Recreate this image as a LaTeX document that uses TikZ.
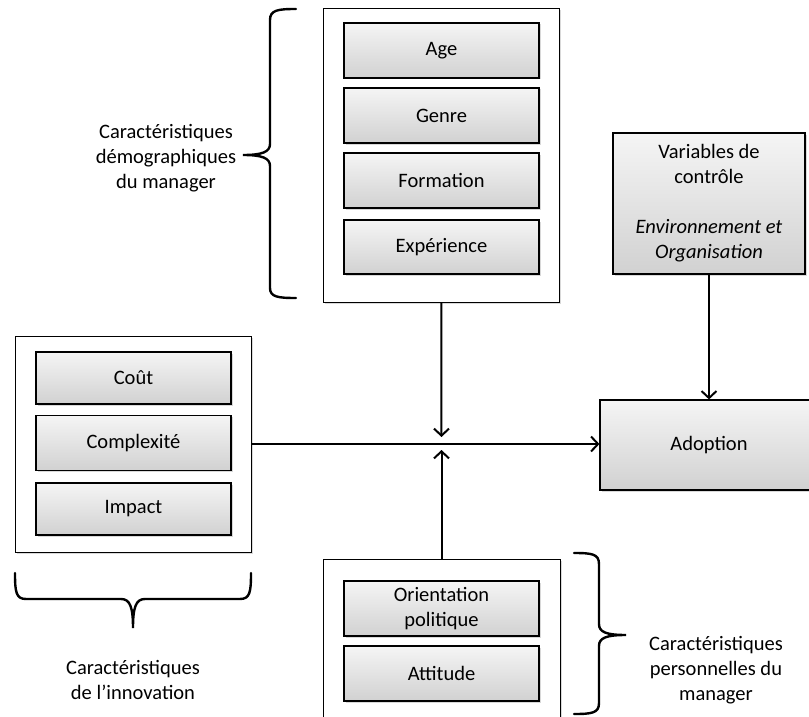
\documentclass[tikz,border=0pt]{standalone}
\usepackage{fontspec}
\setmainfont{Carlito}
\usetikzlibrary{arrows.meta,shadows}

\begin{document}
\begin{tikzpicture}[x=1pt, y=-1pt,
    every node/.style={font=\fontsize{20.5}{25}\selectfont},
    group/.style={draw, line width=1pt, fill=white, drop shadow={shadow xshift=1.5pt, shadow yshift=-1.5pt, opacity=0.3}},
    item/.style={draw, line width=1.2pt, top color=gray!8, bottom color=gray!36, minimum width=195pt, inner sep=2pt,
        drop shadow={shadow xshift=1.5pt, shadow yshift=-1.5pt, opacity=0.3}},
    link/.style={-{Straight Barb[length=7pt, width=15pt, line width=2pt]}, line width=2pt},
    brace/.style={line width=2.4pt, line cap=round}]
    % Fix the page to the size of the original figure
    \useasboundingbox (0,0) rectangle (809,717);

    % Demographic characteristics (top)
    \node[group, minimum width=236pt, minimum height=293pt] (demo) at (441,155.5) {};
    \node[item, minimum height=55pt] (age) at (441.5,50.5) {Age};
    \node[item, minimum height=55pt] (genre) at (441.5,115.5) {Genre};
    \node[item, minimum height=55pt] (formation) at (441.5,180.5) {Formation};
    \node[item, minimum height=54pt] (experience) at (441.5,247) {Expérience};

    % Innovation characteristics (left)
    \node[group, minimum width=236pt, minimum height=216pt] (innov) at (133,444) {};
    \node[item, minimum height=52pt] (cout) at (133.5,378) {Coût};
    \node[item, minimum height=55pt] (complexite) at (133.5,443) {Complexité};
    \node[item, minimum height=52pt] (impact) at (133.5,509) {Impact};

    % Personal characteristics (bottom)
    \node[group, minimum width=237pt, minimum height=190pt] (perso) at (441.5,654) {};
    \node[item, minimum height=55pt, align=center] (orientation) at (441.5,608.5) {Orientation\\politique};
    \node[item, minimum height=55pt] (attitude) at (441.5,673.5) {Attitude};

    % Control variables and outcome
    \node[item, minimum width=192pt, minimum height=141pt, align=center] (controle) at (709,203.5)
        {Variables de\\contrôle\\[25pt]\textit{Environnement et}\\\textit{Organisation}};
    \node[item, minimum width=218pt, minimum height=90pt] (adoption) at (709,445) {Adoption};

    % Arrows
    \coordinate (above) at (441.5,437);
    \coordinate (below) at (441.5,450);
    \draw[link] (innov.east) -- (innov.east -| adoption.west);
    \draw[link] (demo) -- (above);
    \draw[link] (perso) -- (below);
    \draw[link] (controle) -- (adoption);

    % Braces
    \draw[brace] (296,9) .. controls (278,9) and (270,10) .. (270,20) -- (270,144)
        .. controls (270,152) and (262,155) .. (243,155)
        .. controls (262,155) and (270,158) .. (270,166) -- (270,288)
        .. controls (270,297) and (278,298) .. (296,298);
    \draw[brace] (15,573) .. controls (15,592) and (16,599) .. (26,599) -- (121,599)
        .. controls (130,599) and (133,607) .. (133,628)
        .. controls (133,607) and (136,599) .. (145,599) -- (240,599)
        .. controls (250,599) and (251,592) .. (251,573);
    \draw[brace] (574,553) .. controls (592,553) and (599,554) .. (599,564) -- (599,624)
        .. controls (599,632) and (606,635) .. (626,635)
        .. controls (606,635) and (599,638) .. (599,646) -- (599,703)
        .. controls (599,713) and (592,714) .. (574,714);

    % Brace labels
    \node[align=center] (labeldemo) at (166,158) {Caractéristiques\\démographiques\\du manager};
    \node[align=center] (labelinnov) at (133,680) {Caractéristiques\\de l’innovation};
    \node[align=center] (labelperso) at (716,670) {Caractéristiques\\personnelles du\\manager};
\end{tikzpicture}
\end{document}
